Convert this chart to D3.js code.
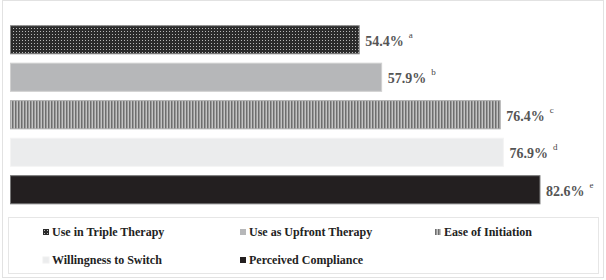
<!DOCTYPE html>
<html lang="en">
<head>
    <meta charset="UTF-8">
    <title>Bar chart</title>
    <script src="https://d3js.org/d3.v7.min.js"></script>
    <style>
        body { margin: 0; background: #fff; }
        svg { display: block; }
    </style>
</head>
<body>
    <div id="chart"></div>
    <script>
        // data
        var categories = ["Use in Triple Therapy", "Use as Upfront Therapy", "Ease of Initiation",
                          "Willingness to Switch", "Perceived Compliance"];
        var values = [54.4, 57.9, 76.4, 76.9, 82.6];
        var marks = ["a", "b", "c", "d", "e"];

        var w = 606;
        var h = 280;

        var fills = ["url(#dots)", "#b6b7b9", "url(#stripes)", "#ebeced", "#231f20"];
        var strokes = ["#888", "#d0d0d0", "#aaa", "#f4f4f4", "#777"];

        var svg = d3.select("#chart")
            .append("svg")
            .attr("width", w)
            .attr("height", h);

        // patterns
        var defs = svg.append("defs");
        var dots = defs.append("pattern")
            .attr("id", "dots")
            .attr("patternUnits", "userSpaceOnUse")
            .attr("width", 3)
            .attr("height", 3);
        dots.append("rect").attr("width", 3).attr("height", 3).attr("fill", "#2b2b2b");
        dots.append("rect").attr("x", 1).attr("y", 1).attr("width", 1).attr("height", 1).attr("fill", "#b8b8b8");

        var stripes = defs.append("pattern")
            .attr("id", "stripes")
            .attr("patternUnits", "userSpaceOnUse")
            .attr("width", 3)
            .attr("height", 3);
        stripes.append("rect").attr("width", 3).attr("height", 3).attr("fill", "#c4c4c4");
        stripes.append("rect").attr("width", 1.5).attr("height", 3).attr("fill", "#6e6e6e");

        // outer frame
        svg.append("rect")
            .attr("x", 2.5).attr("y", 0.5)
            .attr("width", 601).attr("height", 277)
            .attr("fill", "none")
            .attr("stroke", "#e2e2e2");

        var xScale = d3.scaleLinear()
            .domain([0, 100])
            .range([10.5, 651.5]);

        var yScale = d3.scaleBand()
            .domain(categories)
            .range([21, 208.5])
            .paddingInner(0.25)
            .paddingOuter(0.125);

        svg.selectAll("rect.bar")
            .data(values)
            .enter()
            .append("rect")
            .attr("class", "bar")
            .attr("x", xScale(0))
            .attr("y", (d, i) => yScale(categories[i]))
            .attr("width", d => xScale(d) - xScale(0))
            .attr("height", yScale.bandwidth())
            .attr("fill", (d, i) => fills[i])
            .attr("stroke", (d, i) => strokes[i])
            .attr("stroke-width", 1);

        var labels = svg.selectAll("text.val")
            .data(values)
            .enter()
            .append("text")
            .attr("class", "val")
            .attr("x", d => xScale(d) + 6)
            .attr("y", (d, i) => yScale(categories[i]) + yScale.bandwidth() / 2 + 6)
            .attr("font-family", "'Liberation Serif', 'Times New Roman', serif")
            .attr("font-weight", "bold")
            .attr("font-size", "14px")
            .attr("fill", "#555");
        labels.append("tspan").text(d => d + "%");
        labels.append("tspan")
            .text((d, i) => marks[i])
            .attr("dx", 5)
            .attr("dy", -8)
            .attr("font-size", "9px")
            .attr("font-weight", "normal")
            .attr("fill", "#444");

        // legend
        svg.append("rect")
            .attr("x", 8.5).attr("y", 217.5)
            .attr("width", 590).attr("height", 56)
            .attr("fill", "none")
            .attr("stroke", "#e6e6e6");

        var legX = [43, 240, 435];
        var legY = [232, 260];

        var leg = svg.selectAll("g.leg")
            .data(categories)
            .enter()
            .append("g")
            .attr("class", "leg")
            .attr("transform", (d, i) => "translate(" + legX[i % 3] + "," + legY[Math.floor(i / 3)] + ")");

        leg.append("rect")
            .attr("x", 0).attr("y", -3)
            .attr("width", 6).attr("height", 6)
            .attr("fill", (d, i) => fills[i])
            .attr("stroke", (d, i) => i == 3 ? "#f0f0f0" : "none");

        leg.append("text")
            .text(d => d)
            .attr("x", 9)
            .attr("y", 4)
            .attr("font-family", "'Liberation Serif', 'Times New Roman', serif")
            .attr("font-weight", "bold")
            .attr("font-size", "12px")
            .attr("fill", "#222");
    </script>
</body>
</html>
